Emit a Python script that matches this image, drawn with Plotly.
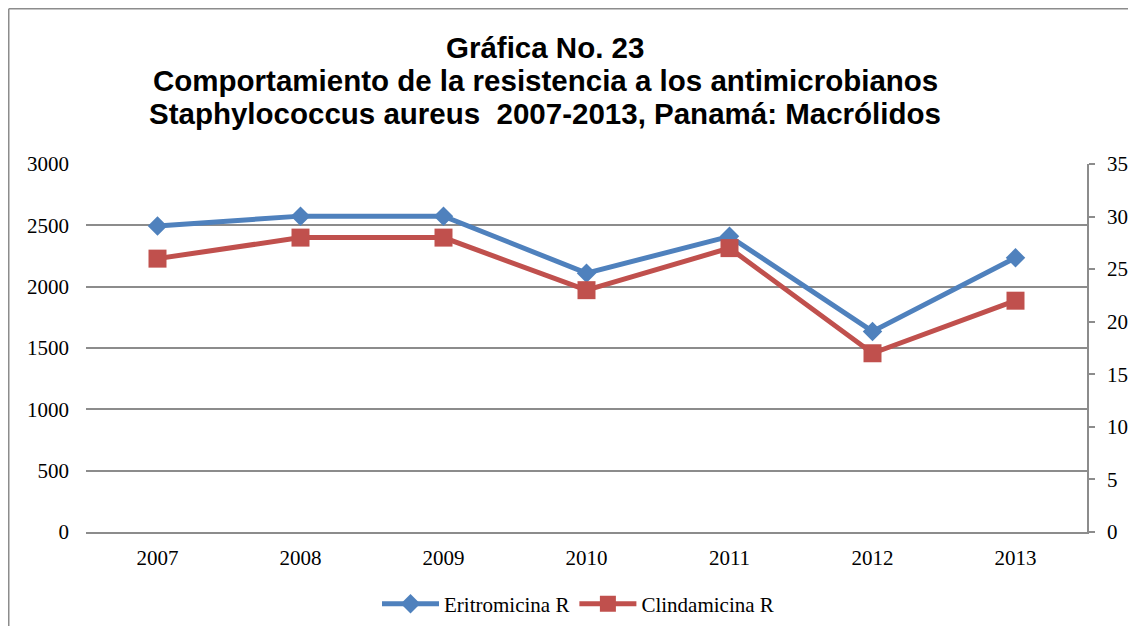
import plotly.graph_objects as go

years = ["2007", "2008", "2009", "2010", "2011", "2012", "2013"]
eritromicina = [2495, 2575, 2575, 2110, 2410, 1635, 2235]   # left axis
clindamicina = [26, 28, 28, 23, 27, 17, 22]                   # right axis

left_ticks = [0, 500, 1000, 1500, 2000, 2500, 3000]
right_ticks = [0, 5, 10, 15, 20, 25, 30, 35]

title_lines = [
    "Gráfica No. 23",
    "Comportamiento de la resistencia a los antimicrobianos",
    "Staphylococcus aureus  2007-2013, Panamá: Macrólidos",
]

BLUE = "#4F81BD"
RED = "#C0504D"
GRID = "#8C8C8C"
TICKFONT = dict(family="Liberation Serif, Times New Roman, serif", size=21, color="black")
TITLEFONT = dict(family="Liberation Sans, Arial, sans-serif", size=29.5, color="black", weight="bold")

fig = go.Figure()
fig.add_trace(go.Scatter(
    x=years, y=eritromicina, name="Eritromicina R", mode="lines+markers",
    line=dict(color=BLUE, width=5),
    marker=dict(symbol="diamond", size=15, color=BLUE),
    yaxis="y"))
fig.add_trace(go.Scatter(
    x=years, y=clindamicina, name="Clindamicina R", mode="lines+markers",
    line=dict(color=RED, width=5),
    marker=dict(symbol="square", size=18, color=RED),
    yaxis="y2"))

# page body has an 8px margin, so figure coordinates = screen - 8
W, H = 1120, 618
L, R, T, B = 78, 1079, 156, 524
PW, PH = R - L, B - T


def px_x(x):
    return (x - L) / PW


def px_y(y):
    return (B - y) / PH


fig.update_layout(
    width=W, height=H,
    margin=dict(l=L, r=W - R, t=T, b=H - B, autoexpand=False),
    paper_bgcolor="white", plot_bgcolor="white",
    xaxis=dict(
        type="category", range=[-0.5, 6.5],
        showline=True, linecolor=GRID, linewidth=1.5,
        showgrid=False, ticks="", tickfont=TICKFONT, ticklabelstandoff=6,
        zeroline=False,
    ),
    yaxis=dict(
        range=[0, 3000], tickvals=left_ticks, showgrid=True, gridcolor=GRID, gridwidth=1.5,
        showline=False, ticks="", tickfont=TICKFONT, ticklabelstandoff=16, zeroline=False,
    ),
    yaxis2=dict(
        range=[0, 35], tickvals=right_ticks, overlaying="y", side="right",
        showgrid=False, showline=True, linecolor=GRID, linewidth=1.5,
        ticks="outside", ticklen=6, tickcolor=GRID, tickwidth=1.5,
        tickfont=TICKFONT, ticklabelstandoff=8, zeroline=False,
    ),
    legend=dict(
        orientation="h", x=px_x(570), xanchor="center", y=px_y(596), yanchor="middle",
        font=TICKFONT, itemwidth=57, tracegroupgap=0,
    ),
    showlegend=True,
)

for line, yc in zip(title_lines, [39, 72, 105]):
    fig.add_annotation(text=line, xref="paper", yref="paper",
                       x=px_x(537), y=px_y(yc), xanchor="center", yanchor="middle",
                       showarrow=False, font=TITLEFONT)

# outer chart frame (only left and top edges are inside the picture)
fig.add_shape(type="line", xref="paper", yref="paper",
              x0=px_x(0.75), x1=px_x(0.75), y0=px_y(640), y1=px_y(0.75),
              line=dict(color=GRID, width=1.5), layer="below")
fig.add_shape(type="line", xref="paper", yref="paper",
              x0=px_x(0.75), x1=px_x(1140), y0=px_y(0.75), y1=px_y(0.75),
              line=dict(color=GRID, width=1.5), layer="below")

fig.write_html("out.html")
